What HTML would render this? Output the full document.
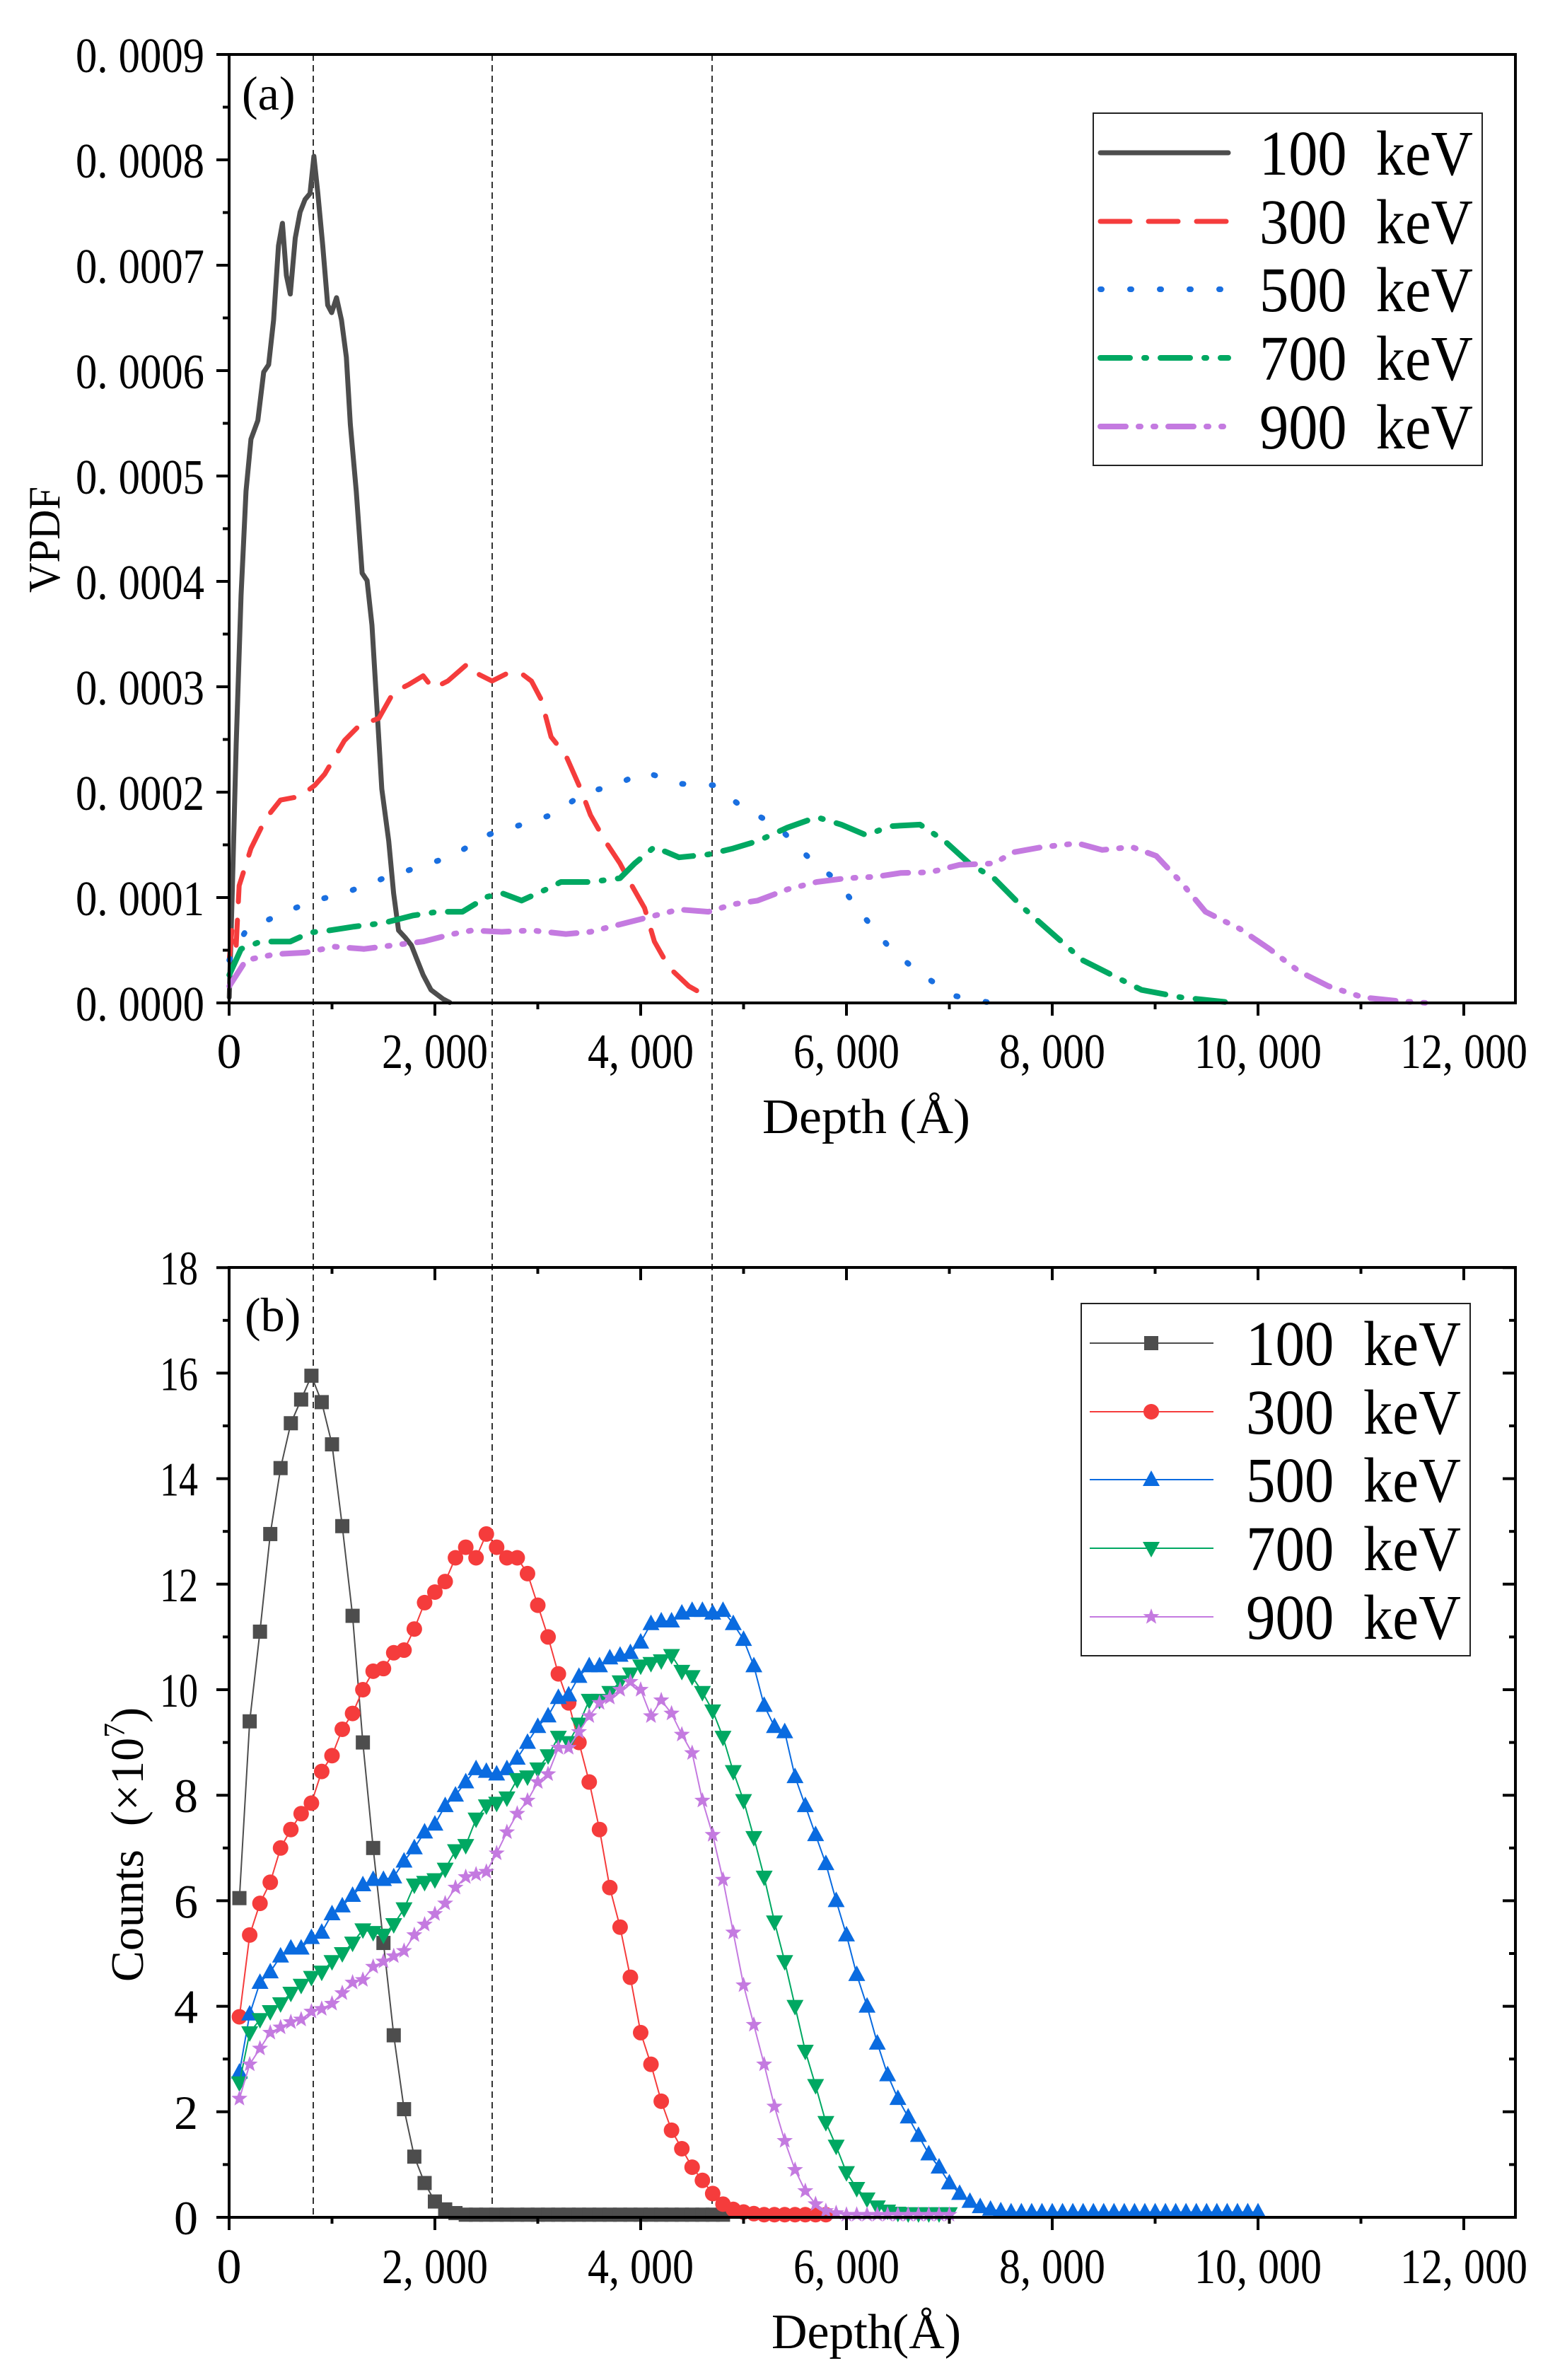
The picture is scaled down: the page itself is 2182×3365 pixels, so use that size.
<!DOCTYPE html>
<html><head><meta charset="utf-8"><style>html,body{margin:0;padding:0;background:#fff}svg{display:block}</style></head>
<body>
<svg id="s" width="2182" height="3365" viewBox="0 0 2182 3365" xmlns="http://www.w3.org/2000/svg" font-family="Liberation Serif, serif">
<rect width="2182" height="3365" fill="#fff"/>
<g id="g"></g>
</svg>
<script>
var NS="http://www.w3.org/2000/svg",G=document.getElementById('g');
function el(t,a,txt){var e=document.createElementNS(NS,t);for(var k in a)e.setAttribute(k,a[k]);if(txt!==undefined)e.textContent=txt;G.appendChild(e);return e;}
function tx(x,y,s,fs,anchor,w){var a={x:x,y:y,'font-size':fs,'text-anchor':anchor||'start'};if(w){a.textLength=w;a.lengthAdjust='spacingAndGlyphs';}var e=el('text',a,s);e.setAttributeNS('http://www.w3.org/XML/1998/namespace','xml:space','preserve');return e;}
var L=324,R=2143,AT=77,AB=1418,BT=1792,BB=3135;
function X(d){return L+d*0.1455;}
function YA(v){return AB-v*149;}
function YB(c){return BB-c*74.6;}
[443,696,1007].forEach(function(x){el('line',{x1:x,y1:AT,x2:x,y2:BB,stroke:'#333','stroke-width':2,'stroke-dasharray':'9 6'});});
function zA(p){return p.map(function(q){return (q[0]/0.7186).toFixed(1)+','+(q[1]/0.9503).toFixed(1);}).join(' ');}
var blk=[[233,1340],[236,1200],[240,1000],[245,800],[250,660],[255,590],[262,565],[268,500],[273,490],[278,430],[283,330],[287,300],[291,370],[295,395],[300,320],[305,285],[310,268],[315,260],[319,210],[323,260],[328,330],[333,410],[337,420],[342,400],[347,430],[352,480],[356,570],[362,660],[368,770],[373,780],[378,840],[383,950],[388,1060],[395,1130],[400,1200],[405,1250],[412,1260],[418,1270],[424,1290],[430,1310],[438,1330],[450,1342],[457,1347]];
var red=[[233,1290],[236,1245],[240,1270],[243,1190],[255,1140],[270,1100],[285,1075],[305,1070],[320,1055],[330,1040],[350,995],[365,975],[385,965],[400,930],[415,920],[430,908],[440,925],[455,915],[475,892],[485,905],[500,915],[515,905],[530,905],[540,915],[550,940],[560,990],[575,1015],[590,1060],[600,1095],[615,1130],[630,1160],[640,1185],[655,1220],[665,1265],[680,1300],[700,1325],[720,1340]];
var blu=[[233,1290],[250,1250],[290,1225],[320,1210],[350,1200],[390,1180],[430,1163],[460,1150],[495,1122],[525,1110],[560,1095],[595,1065],[625,1055],[655,1037],[690,1053],[725,1055],[755,1085],[790,1110],[820,1150],[850,1183],[880,1235],[905,1275],[935,1308],[970,1338],[1005,1347]];
var grn=[[233,1310],[245,1275],[265,1265],[295,1265],[315,1253],[335,1250],[360,1245],[390,1240],[420,1230],[445,1225],[470,1225],[495,1205],[510,1200],[530,1210],[555,1195],[570,1185],[600,1185],[630,1180],[645,1160],[665,1138],[690,1152],[720,1148],[745,1140],[770,1130],[800,1112],[830,1098],[855,1108],[880,1122],[905,1110],[935,1108],[960,1130],[985,1160],[1010,1180],[1040,1220],[1070,1255],[1100,1290],[1130,1310],[1160,1330],[1200,1340],[1250,1347]];
var pur=[[233,1325],[250,1290],[280,1282],[310,1280],[340,1272],[370,1275],[400,1270],[430,1265],[460,1255],[480,1250],[510,1252],[540,1250],[575,1255],[600,1252],[630,1242],[660,1232],[690,1222],[720,1225],[745,1215],[770,1210],[800,1195],[830,1185],[860,1180],[890,1178],[915,1173],[945,1172],[975,1162],[1010,1160],[1030,1145],[1060,1138],[1095,1133],[1120,1142],[1150,1138],[1175,1150],[1200,1185],[1225,1225],[1260,1248],[1290,1275],[1320,1305],[1350,1325],[1385,1340],[1420,1345],[1455,1348]];
var stA=[
 {c:'#4d4d4d',d:'none',p:blk,w:7},
 {c:'#f53c3c',d:'42 26',p:red,w:7},
 {c:'#1a6fe0',d:'2 40',p:blu,w:8},
 {c:'#00a862',d:'42 20 3 20',p:grn,w:8},
 {c:'#c47ae0',d:'36 18 3 18 3 18',p:pur,w:8}];
stA.forEach(function(s){el('polyline',{points:zA(s.p),fill:'none',stroke:s.c,'stroke-width':s.w,'stroke-dasharray':s.d,'stroke-linecap':'round','stroke-linejoin':'round'});});
el('rect',{x:L,y:AT,width:R-L,height:AB-AT,fill:'none',stroke:'#000','stroke-width':4});
for(var i=0;i<=9;i++){var y=YA(i);el('line',{x1:L-18,y1:y,x2:L,y2:y,stroke:'#000','stroke-width':4});
 tx(289,y+25,'0. 000'+i,70,'end',182);
 if(i<9){var ym=YA(i+0.5);el('line',{x1:L-9,y1:ym,x2:L,y2:ym,stroke:'#000','stroke-width':4});}}
var xl=['0','2, 000','4, 000','6, 000','8, 000','10, 000','12, 000'];
var xw=[0,150,150,150,150,180,180];
for(var i=0;i<=6;i++){var x=X(i*2000);el('line',{x1:x,y1:AB,x2:x,y2:AB+18,stroke:'#000','stroke-width':4});
 el('line',{x1:X(i*2000+1000),y1:AB,x2:X(i*2000+1000),y2:AB+9,stroke:'#000','stroke-width':4});
 tx(x,1510,xl[i],70,'middle',xw[i]||null);}
tx(1225,1602,'Depth (Å)',70,'middle',294);
el('text',{x:0,y:0,'text-anchor':'middle','font-size':64,transform:'translate(84,763) rotate(-90)',textLength:150,lengthAdjust:'spacingAndGlyphs'},'VPDF');
tx(342,155,'(a)',68,'start');
el('rect',{x:1546,y:160,width:550,height:498,fill:'#fff',stroke:'#222','stroke-width':2});
var lyA=[216,313,409,506,603],lab=['100  keV','300  keV','500  keV','700  keV','900  keV'];
stA.forEach(function(s,i){el('line',{x1:1556,y1:lyA[i],x2:1737,y2:lyA[i],stroke:s.c,'stroke-width':s.w,'stroke-dasharray':s.d,'stroke-linecap':'round'});
 tx(1781,lyA[i]+31,lab[i],90,'start',302);});
function mk(sh,x,y,c){
 if(sh=='s')el('rect',{x:x-10,y:y-10,width:20,height:20,fill:c});
 else if(sh=='c')el('circle',{cx:x,cy:y,r:11,fill:c});
 else if(sh=='u')el('polygon',{points:(x)+','+(y-13)+' '+(x-12)+','+(y+9)+' '+(x+12)+','+(y+9),fill:c});
 else if(sh=='d')el('polygon',{points:(x)+','+(y+13)+' '+(x-12)+','+(y-9)+' '+(x+12)+','+(y-9),fill:c});
 else {var p=[];for(var k=0;k<10;k++){var r=k%2?5:12,a=-Math.PI/2+k*Math.PI/5;p.push((x+r*Math.cos(a)).toFixed(1)+','+(y+r*Math.sin(a)).toFixed(1));}el('polygon',{points:p.join(' '),fill:c});}
}
function ser(vals,tail,tailEnd){var a=vals.slice();var n=a.length;for(var d=(n+1)*100;d<=tailEnd;d+=100)a.push(tail);return a;}
var B=[
 {c:'#4d4d4d',m:'s',v:ser([6.05,9.4,11.1,12.95,14.2,15.05,15.5,15.95,15.45,14.65,13.1,11.4,9.0,7.0,5.2,3.45,2.05,1.15,0.65,0.3,0.15,0.08],0.05,4800)},
 {c:'#f53c3c',m:'c',v:ser([3.8,5.35,5.95,6.35,7.0,7.35,7.65,7.85,8.45,8.75,9.25,9.55,10.0,10.35,10.4,10.7,10.75,11.15,11.65,11.85,12.05,12.5,12.7,12.5,12.95,12.7,12.5,12.5,12.2,11.6,11.0,10.3,9.75,9.0,8.25,7.35,6.25,5.5,4.55,3.5,2.9,2.2,1.65,1.3,0.95,0.7,0.45,0.25,0.15,0.1,0.07],0.05,5800)},
 {c:'#0a6be0',m:'u',v:ser([2.75,3.85,4.45,4.65,4.95,5.1,5.1,5.3,5.4,5.75,5.9,6.1,6.3,6.4,6.4,6.45,6.75,7.0,7.3,7.45,7.8,8.0,8.25,8.5,8.45,8.4,8.5,8.7,9.0,9.3,9.5,9.85,9.9,10.25,10.45,10.45,10.6,10.65,10.7,10.9,11.25,11.3,11.3,11.45,11.5,11.5,11.45,11.5,11.25,10.95,10.45,9.7,9.3,9.2,8.35,7.8,7.25,6.7,6.0,5.35,4.6,4.0,3.3,2.7,2.25,1.9,1.55,1.2,0.95,0.65,0.45,0.3,0.2,0.15,0.12],0.1,10000)},
 {c:'#00a862',m:'d',v:ser([2.55,3.5,3.75,3.9,4.05,4.25,4.4,4.55,4.65,4.85,5.0,5.2,5.45,5.4,5.35,5.55,5.85,6.3,6.35,6.4,6.6,6.95,7.05,7.55,7.8,7.85,7.95,8.3,8.35,8.5,8.75,9.1,9.0,9.35,9.8,9.8,9.95,10.15,10.3,10.45,10.5,10.55,10.65,10.35,10.25,9.95,9.6,9.1,8.45,7.9,7.2,6.45,5.6,4.85,4.0,3.15,2.5,1.8,1.35,0.85,0.55,0.35,0.2,0.12,0.08],0.07,7000)},
 {c:'#c47ae0',m:'t',v:ser([2.25,2.9,3.2,3.5,3.6,3.7,3.75,3.9,3.95,4.05,4.25,4.45,4.5,4.75,4.85,4.95,5.05,5.35,5.55,5.75,5.95,6.25,6.45,6.5,6.55,6.9,7.3,7.65,7.9,8.25,8.4,8.9,8.9,9.2,9.5,9.75,9.85,10.0,10.15,10.0,9.5,9.8,9.55,9.15,8.8,7.9,7.25,6.4,5.4,4.4,3.65,2.9,2.1,1.45,0.9,0.5,0.25,0.12,0.08],0.05,7000)}];
B.forEach(function(s){var pts=s.v.map(function(v,i){return X((i+1)*100).toFixed(1)+','+YB(v).toFixed(1);});
 el('polyline',{points:pts.join(' '),fill:'none',stroke:s.c,'stroke-width':2});
 s.v.forEach(function(v,i){mk(s.m,X((i+1)*100),YB(v),s.c);});});
el('rect',{x:L,y:BT,width:R-L,height:BB-BT,fill:'none',stroke:'#000','stroke-width':4});
for(var i=0;i<=18;i++){var y=YB(i),len=(i%2==0)?18:9;
 el('line',{x1:L-len,y1:y,x2:L,y2:y,stroke:'#000','stroke-width':4});
 el('line',{x1:R-len,y1:y,x2:R,y2:y,stroke:'#000','stroke-width':4});
 if(i%2==0)tx(280,y+24,String(i),68,'end',i>=10?54:null);}
for(var i=0;i<=6;i++){var x=X(i*2000);
 el('line',{x1:x,y1:BB,x2:x,y2:BB+18,stroke:'#000','stroke-width':4});
 el('line',{x1:x,y1:BT,x2:x,y2:BT+18,stroke:'#000','stroke-width':4});
 el('line',{x1:X(i*2000+1000),y1:BB,x2:X(i*2000+1000),y2:BB+9,stroke:'#000','stroke-width':4});
 el('line',{x1:X(i*2000+1000),y1:BT,x2:X(i*2000+1000),y2:BT+9,stroke:'#000','stroke-width':4});
 tx(x,3228,xl[i],70,'middle',xw[i]||null);}
tx(1225,3320,'Depth(Å)',70,'middle',268);
var ct=el('text',{x:0,y:0,'text-anchor':'middle','font-size':66,transform:'translate(202,2608) rotate(-90)'});
ct.setAttributeNS('http://www.w3.org/XML/1998/namespace','xml:space','preserve');
ct.innerHTML='Counts  (×10<tspan dy="-26" font-size="42">7</tspan><tspan dy="26">)</tspan>';
tx(346,1882,'(b)',68,'start');
el('rect',{x:1529,y:1843,width:550,height:498,fill:'#fff',stroke:'#222','stroke-width':2});
var lyB=[1899,1996,2092,2189,2286];
B.forEach(function(s,i){el('line',{x1:1541,y1:lyB[i],x2:1716,y2:lyB[i],stroke:s.c,'stroke-width':2});
 mk(s.m,1628,lyB[i],s.c);
 tx(1762,lyB[i]+31,lab[i],90,'start',304);});
</script>
</body></html>
